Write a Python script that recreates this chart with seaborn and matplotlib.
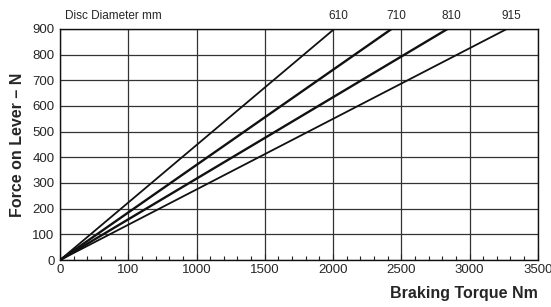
import numpy as np
import pandas as pd
import matplotlib
matplotlib.use("Agg")
import matplotlib.pyplot as plt
import seaborn as sns
from matplotlib.ticker import MultipleLocator

# === DATA ===
disc_diameters = ["610", "710", "810", "915"]
torque_at_900n = [2010, 2430, 2840, 3275]   # Nm where each line reaches 900 N
force_start = 0
force_end = 900
line_widths = [1.3, 1.7, 1.7, 1.3]

x_ticks = [0, 500, 1000, 1500, 2000, 2500, 3000, 3500]
x_tick_labels = ["0", "100", "1000", "1500", "2000", "2500", "3000", "3500"]
y_ticks = [0, 100, 200, 300, 400, 500, 600, 700, 800, 900]

rows = []
for d, t in zip(disc_diameters, torque_at_900n):
    rows.append({"disc": d, "torque": 0, "force": force_start})
    rows.append({"disc": d, "torque": t, "force": force_end})
df = pd.DataFrame(rows)

# === SETTINGS ===
sns.set_style("white")
plt.rcParams["font.family"] = ["Liberation Sans Narrow", "Liberation Sans", "DejaVu Sans"]

fig = plt.figure(figsize=(5.51, 3.07), dpi=100)
ax = fig.add_axes([0.109, 0.153, 0.867, 0.753])

for d, lw in zip(disc_diameters, line_widths):
    sns.lineplot(data=df[df["disc"] == d], x="torque", y="force",
                 color="#111111", linewidth=lw, ax=ax, legend=False)

ax.set_xlim(0, 3500)
ax.set_ylim(0, 900)
ax.set_xticks(x_ticks)
ax.set_xticklabels(x_tick_labels)
ax.set_yticks(y_ticks)
ax.xaxis.set_minor_locator(MultipleLocator(100))
ax.tick_params(axis="x", which="major", direction="in", length=4, width=0.8,
               labelsize=9.5, pad=3, color="#222222", bottom=True)
ax.tick_params(axis="x", which="minor", direction="in", length=3, width=0.8,
               color="#222222", bottom=True)
ax.tick_params(axis="y", length=0, labelsize=9.5, pad=4)
ax.grid(True, which="major", color="#333333", linewidth=0.9)
ax.grid(False, which="minor")
for s in ax.spines.values():
    s.set_color("#111111")
    s.set_linewidth(1.0)

ax.set_xlabel("")
ax.set_ylabel("Force on Lever – N", fontsize=11.5, fontweight="bold", labelpad=5)
fig.text(0.976, 0.02, "Braking Torque Nm", ha="right", va="bottom",
         fontsize=11.5, fontweight="bold")

# diameter labels above the top spine
for d, t in zip(disc_diameters, torque_at_900n):
    ax.text(t + 30, 1.03, d, transform=ax.get_xaxis_transform(),
            ha="center", va="bottom", fontsize=8.5)
ax.text(0.01, 1.03, "Disc Diameter mm", transform=ax.transAxes,
        ha="left", va="bottom", fontsize=8.5)

fig.savefig("out.png", dpi=100)
